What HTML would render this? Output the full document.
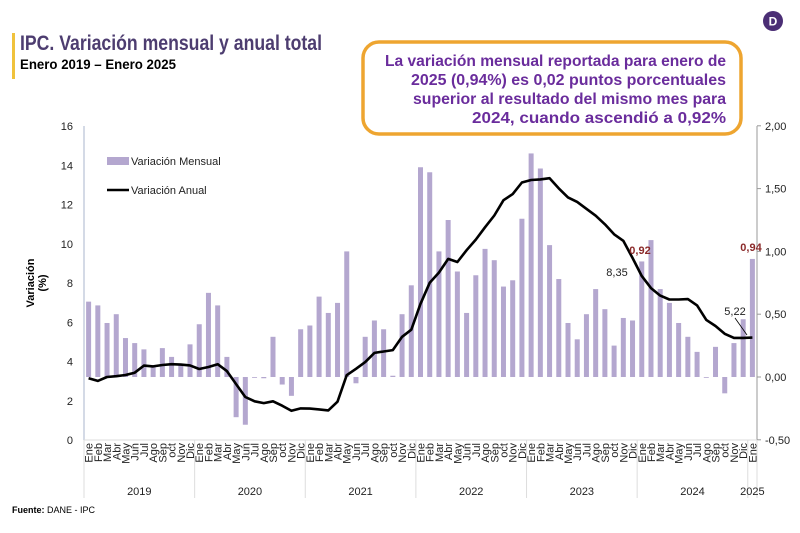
<!DOCTYPE html>
<html><head><meta charset="utf-8"><style>
html,body{margin:0;padding:0;background:#fff;}
svg{display:block;font-family:"Liberation Sans",sans-serif;}
</style></head><body>
<svg id="s" width="800" height="533" viewBox="0 0 800 533" xmlns="http://www.w3.org/2000/svg">
<rect width="800" height="533" fill="#fff"/>
<rect x="12" y="33" width="3" height="46" fill="#f0c23c"/>
<text x="20" y="50" font-size="21" font-weight="bold" fill="#4d3d70" textLength="302" lengthAdjust="spacingAndGlyphs">IPC. Variación mensual y anual total</text>
<text x="20" y="69" font-size="14" font-weight="bold" fill="#000" textLength="156" lengthAdjust="spacingAndGlyphs">Enero 2019 – Enero 2025</text>
<rect x="363" y="42" width="378" height="92" rx="16" fill="#fff" stroke="#eea530" stroke-width="3.5"/>
<g font-size="16" font-weight="bold" fill="#6a2c9c" text-anchor="end">
<text x="726" y="66" textLength="341" lengthAdjust="spacingAndGlyphs">La variación mensual reportada para enero de</text>
<text x="726" y="85" textLength="315" lengthAdjust="spacingAndGlyphs">2025 (0,94%) es 0,02 puntos porcentuales</text>
<text x="726" y="104" textLength="313" lengthAdjust="spacingAndGlyphs">superior al resultado del mismo mes para</text>
<text x="726" y="123" textLength="254" lengthAdjust="spacingAndGlyphs">2024, cuando ascendió a 0,92%</text>
</g>
<circle cx="773" cy="21" r="10" fill="#4b2e75"/>
<text x="773" y="25.5" font-size="12" font-weight="bold" fill="#fff" text-anchor="middle">D</text>
<text transform="translate(34,283) rotate(-90)" font-size="11" font-weight="bold" text-anchor="middle">Variación</text>
<text transform="translate(46,283) rotate(-90)" font-size="11" font-weight="bold" text-anchor="middle">(%)</text>
<text x="12" y="513" font-size="9" font-weight="bold">Fuente: <tspan font-weight="normal">DANE - IPC</tspan></text>
<g id="g"></g>
</svg>
<script>
var m=[0.60,0.57,0.43,0.50,0.31,0.27,0.22,0.09,0.23,0.16,0.10,0.26,
0.42,0.67,0.57,0.16,-0.32,-0.38,0.00,-0.01,0.32,-0.06,-0.15,0.38,
0.41,0.64,0.51,0.59,1.00,-0.05,0.32,0.45,0.38,0.01,0.50,0.73,
1.67,1.63,1.00,1.25,0.84,0.51,0.81,1.02,0.93,0.72,0.77,1.26,
1.78,1.66,1.05,0.78,0.43,0.30,0.50,0.70,0.54,0.25,0.47,0.45,
0.92,1.09,0.70,0.59,0.43,0.32,0.20,0.00,0.24,-0.13,0.27,0.46,0.94];
var a=[3.15,3.01,3.21,3.25,3.31,3.43,3.79,3.75,3.82,3.86,3.84,3.80,
3.62,3.72,3.86,3.51,2.85,2.19,1.97,1.88,1.97,1.75,1.49,1.61,
1.60,1.56,1.51,1.95,3.30,3.63,3.97,4.44,4.51,4.58,5.26,5.62,
6.94,8.01,8.53,9.23,9.07,9.67,10.21,10.84,11.44,12.22,12.53,13.12,
13.25,13.28,13.34,12.82,12.36,12.13,11.78,11.43,10.99,10.48,10.15,9.28,
8.35,7.74,7.36,7.16,7.16,7.18,6.86,6.12,5.81,5.41,5.20,5.20,5.22];
var mn=["Ene","Feb","Mar","Abr","May","Jun","Jul","Ago","Sep","oct","Nov","Dic"];
var X0=84,X1=757,N=73,W=(X1-X0)/N;
function yl(v){return 440-v*19.625;}
function yr(v){return 377-v*125.6;}
var h="";
h+='<line x1="'+X0+'" y1="126" x2="'+X0+'" y2="440" stroke="#a9b6cc"/>';
h+='<line x1="'+X1+'" y1="126" x2="'+X1+'" y2="440" stroke="#999"/>';
h+='<line x1="'+X0+'" y1="440" x2="'+X1+'" y2="440" stroke="#ddd"/>';
for(var v=0;v<=16;v+=2){h+='<text x="73" y="'+(yl(v)+4)+'" font-size="11" text-anchor="end" fill="#222">'+v+'</text>';}
var rv=[2,1.5,1,0.5,0,-0.5];
rv.forEach(function(v){var y=yr(v);h+='<line x1="'+X1+'" y1="'+y+'" x2="'+(X1+4)+'" y2="'+y+'" stroke="#999"/>';
h+='<text x="765" y="'+(y+4)+'" font-size="11" fill="#222">'+v.toFixed(2).replace(".",",")+'</text>';});
for(var i=0;i<N;i++){var cx=X0+W*(i+0.5);var y=yr(m[i]);
 h+='<rect x="'+(cx-2.5)+'" y="'+Math.min(y,377)+'" width="5" height="'+Math.max(Math.abs(377-y),0.8)+'" fill="#b4a7cf"/>';
 h+='<text transform="translate('+(cx+4)+',443) rotate(-90)" font-size="11" text-anchor="end" fill="#222">'+mn[i%12]+'</text>';}
for(var k=0;k<=6;k++){var x=X0+W*12*k;h+='<line x1="'+x+'" y1="440" x2="'+x+'" y2="498" stroke="#ddd"/>';}
h+='<line x1="'+X1+'" y1="440" x2="'+X1+'" y2="498" stroke="#ddd"/>';
for(var k=0;k<6;k++){h+='<text x="'+(X0+W*(12*k+6))+'" y="495" font-size="11" text-anchor="middle" fill="#222">'+(2019+k)+'</text>';}
h+='<text x="'+(X0+W*72.5)+'" y="495" font-size="11" text-anchor="middle" fill="#222">2025</text>';
var p="";for(var i=0;i<N;i++){p+=(i?"L":"M")+(X0+W*(i+0.5)).toFixed(1)+","+yl(a[i]).toFixed(1);}
h+='<path d="'+p+'" fill="none" stroke="#000" stroke-width="2.6" stroke-linejoin="round"/>';
h+='<rect x="107" y="157" width="22" height="8" fill="#b4a7cf"/><text x="131" y="165" font-size="11" fill="#222">Variación Mensual</text>';
h+='<line x1="107" y1="190" x2="129" y2="190" stroke="#000" stroke-width="2.5"/><text x="131" y="194" font-size="11" fill="#222">Variación Anual</text>';
h+='<text x="617" y="276" font-size="11" text-anchor="middle" fill="#222">8,35</text>';
h+='<text x="640" y="254" font-size="11" font-weight="bold" text-anchor="middle" fill="#8b2a2a">0,92</text>';
h+='<text x="751" y="251" font-size="11" font-weight="bold" text-anchor="middle" fill="#8b2a2a">0,94</text>';
h+='<text x="735" y="315" font-size="11" text-anchor="middle" fill="#222">5,22</text>';
h+='<line x1="735" y1="318" x2="747" y2="335" stroke="#000" stroke-width="0.8"/>';
document.getElementById("g").innerHTML=h;
</script>
</body></html>
